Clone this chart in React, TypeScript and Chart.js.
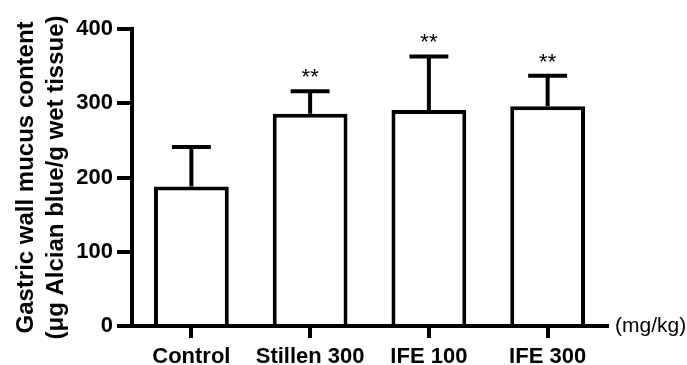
import React, { useEffect, useRef } from "react";
import { Chart, registerables } from "chart.js";

Chart.register(...registerables);

const categories = ["Control", "Stillen 300", "IFE 100", "IFE 300"];
const means = [188, 286, 291, 296];
const errors = [53, 30, 72, 41];
const significance = ["", "**", "**", "**"];
const yTicks = [0, 100, 200, 300, 400];
const yTitleLines = ["Gastric wall mucus content", "(\u03bcg Alcian blue/g wet tissue)"];
const unitLabel = "(mg/kg)";

const FONT = "'Liberation Sans', Arial, Helvetica, sans-serif";
const LW = 4;

const overlayPlugin = {
  id: "overlay",
  afterDatasetsDraw(chart: any) {
    const ctx = chart.ctx;
    const meta = chart.getDatasetMeta(0);
    const yScale = chart.scales.y;
    ctx.save();
    ctx.strokeStyle = "#000";
    ctx.fillStyle = "#000";
    ctx.lineWidth = LW;
    meta.data.forEach((bar: any, i: number) => {
      const top = yScale.getPixelForValue(means[i] + errors[i]);
      const base = bar.y;
      const capHalf = bar.width * 0.26;
      ctx.beginPath();
      ctx.moveTo(bar.x, base);
      ctx.lineTo(bar.x, top);
      ctx.moveTo(bar.x - capHalf, top);
      ctx.lineTo(bar.x + capHalf, top);
      ctx.stroke();
      if (significance[i]) {
        ctx.font = `22px ${FONT}`;
        ctx.textAlign = "center";
        ctx.textBaseline = "alphabetic";
        ctx.fillText(significance[i], bar.x, top - 7);
      }
    });
    const area = chart.chartArea;
    ctx.font = `21px ${FONT}`;
    ctx.textAlign = "left";
    ctx.textBaseline = "middle";
    ctx.fillText(unitLabel, area.right + 8, area.bottom);
    ctx.save();
    const cy = (area.top + area.bottom) / 2;
    ctx.translate(0, cy);
    ctx.rotate(-Math.PI / 2);
    ctx.font = `bold 24px ${FONT}`;
    ctx.textAlign = "center";
    ctx.textBaseline = "middle";
    ctx.fillText(yTitleLines[0], 0, 26);
    ctx.fillText(yTitleLines[1], 0, 56);
    ctx.restore();
    ctx.restore();
  },
};

export default function App() {
  const canvasRef = useRef<HTMLCanvasElement | null>(null);

  useEffect(() => {
    if (!canvasRef.current) return;
    const chart = new Chart(canvasRef.current, {
      type: "bar",
      data: {
        labels: categories,
        datasets: [
          {
            data: means,
            backgroundColor: "#ffffff",
            borderColor: "#000000",
            borderWidth: LW,
            borderSkipped: "start",
            barPercentage: 1,
            categoryPercentage: 0.63,
          },
        ],
      },
      options: {
        responsive: false,
        animation: false,
        devicePixelRatio: 1,
        layout: { padding: { top: 29, right: 80, left: 0, bottom: 0 } },
        plugins: {
          legend: { display: false },
          tooltip: { enabled: false },
          title: { display: false },
        },
        scales: {
          x: {
            afterFit: (scale: any) => {
              scale.height = 39;
            },
            grid: {
              offset: false,
              drawOnChartArea: false,
              drawTicks: true,
              tickLength: 12,
              lineWidth: LW,
              color: "#000",
            },
            border: { display: true, width: LW, color: "#000" },
            ticks: {
              color: "#000",
              padding: 6,
              font: { family: FONT, size: 22, weight: "bold" },
              maxRotation: 0,
              autoSkip: false,
            },
          },
          y: {
            min: 0,
            max: 400,
            afterFit: (scale: any) => {
              scale.width = 132;
            },
            afterBuildTicks: (scale: any) => {
              scale.ticks = yTicks.map((v) => ({ value: v }));
            },
            grid: {
              drawOnChartArea: false,
              drawTicks: true,
              tickLength: 15,
              lineWidth: LW,
              color: "#000",
            },
            border: { display: true, width: LW, color: "#000" },
            ticks: {
              color: "#000",
              padding: 4,
              font: { family: FONT, size: 22, weight: "bold" },
            },
          },
        },
      },
      plugins: [overlayPlugin],
    } as any);
    return () => chart.destroy();
  }, []);

  return (
    <div style={{ position: "absolute", left: 0, top: 0, width: 687, height: 365, background: "#fff" }}>
      <canvas ref={canvasRef} width={687} height={365} style={{ display: "block" }} />
    </div>
  );
}
